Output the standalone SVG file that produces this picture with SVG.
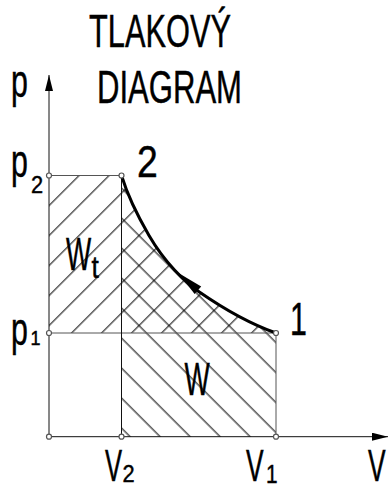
<svg xmlns="http://www.w3.org/2000/svg" width="389" height="491" viewBox="0 0 389 491">
<style>
text{font-family:"Liberation Sans",Arial,sans-serif;fill:#000;stroke:#000;stroke-width:0.45}
.big{font-size:46px}
.sub{font-size:23px}
.thin{stroke:#555;stroke-width:1;fill:none}
.dark{stroke:#111;stroke-width:1;fill:none}
.hatch{stroke:#000;stroke-width:1}
.pt{fill:#fff;stroke:#555;stroke-width:1.2}
</style>
<defs>
<marker id="arr" viewBox="0 0 16 8" refX="16" refY="4" markerWidth="16" markerHeight="8" markerUnits="userSpaceOnUse" orient="auto">
<path d="M0,0 L16,4 L0,8 Z" fill="#000"/>
</marker>
<pattern id="hf" width="21.21" height="21.21" patternUnits="userSpaceOnUse" patternTransform="rotate(45)">
<line class="hatch" x1="10.4" y1="-1" x2="10.4" y2="23"/>
</pattern>
<pattern id="hb" width="21.21" height="21.21" patternUnits="userSpaceOnUse" patternTransform="rotate(-45)">
<line class="hatch" x1="16.5" y1="-1" x2="16.5" y2="23"/>
</pattern>
</defs>

<g id="hatching">
<path id="area-wt" fill="url(#hf)" d="M49,175.5 L121.5,175.5 L129,195.5 L139,217.4 L149,235.4 L164,256.9 L179,273.9 L199,291.7 L219,305.7 L239,316.9 L259,326.3 L276,333 L49,333 Z"/>
<path id="area-w" fill="url(#hb)" d="M121.5,175.5 L129,195.5 L139,217.4 L149,235.4 L164,256.9 L179,273.9 L199,291.7 L219,305.7 L239,316.9 L259,326.3 L276,333 L276,436.7 L121.5,436.7 Z"/>
</g>

<g id="connectors">
<line id="axis-p" class="dark" x1="49" y1="436.7" x2="49" y2="75" marker-end="url(#arr)"/>
<line id="axis-v" class="dark" x1="49" y1="436.7" x2="388" y2="436.7" marker-end="url(#arr)"/>
<line class="thin" x1="49" y1="175.5" x2="121.5" y2="175.5"/>
<line class="thin" x1="49" y1="333" x2="276" y2="333"/>
<line class="dark" x1="121.5" y1="175.5" x2="121.5" y2="436.7"/>
<line class="thin" x1="276" y1="333" x2="276" y2="436.7"/>
<path id="curve" d="M121.5,175.5 C125,187 133,208 149,235.4 S 185,282 199,291.7 S 245,322 276,333" fill="none" stroke="#000" stroke-width="3"/>
<polygon id="curve-arrow" points="178.5,273 201.2,286.6 194.6,294" fill="#000"/>
</g>

<g id="points">
<circle class="pt" cx="49" cy="175.5" r="2.5"/>
<circle class="pt" cx="121.5" cy="175.5" r="2.5"/>
<circle class="pt" cx="49" cy="333" r="2.5"/>
<circle class="pt" cx="276" cy="333" r="2.5"/>
<circle class="pt" cx="49" cy="436.7" r="2.5"/>
<circle class="pt" cx="121.5" cy="436.7" r="2.5"/>
<circle class="pt" cx="276" cy="436.7" r="2.5"/>
</g>

<g id="title">
<text class="big" x="89" y="46.7" textLength="142" lengthAdjust="spacingAndGlyphs">TLAKOVÝ</text>
<text class="big" x="97" y="103" textLength="145" lengthAdjust="spacingAndGlyphs">DIAGRAM</text>
</g>

<g id="labels">
<text class="big" transform="translate(11,97) scale(0.66,1)">p</text>
<g id="label-p2">
<text class="big" transform="translate(11,177) scale(0.66,1)">p</text>
<text class="sub" transform="translate(31,193) scale(0.95,1)">2</text>
</g>
<g id="label-p1">
<text style="font-size:46px" transform="translate(11,345) scale(0.66,1)">p</text>
<text style="font-size:20px" transform="translate(30.5,345) scale(0.9,1)">1</text>
</g>
<text id="label-2" style="font-size:44px" transform="translate(137,176.7) scale(0.85,1)">2</text>
<text id="label-1" class="big" transform="translate(290,335) scale(0.66,1)">1</text>
<g id="label-wt">
<text class="big" transform="translate(66,270) scale(0.58,1)">W</text>
<text style="font-size:31px" transform="translate(91.5,278) scale(0.85,1)">t</text>
</g>
<text id="label-w" class="big" transform="translate(184.5,395) scale(0.58,1)">W</text>
<g id="label-v2">
<text style="font-size:40px" transform="translate(105,481) scale(0.64,1.12)">V</text>
<text class="sub" transform="translate(122.5,482) scale(0.95,1)">2</text>
</g>
<g id="label-v1">
<text style="font-size:40px" transform="translate(246,481) scale(0.66,1.12)">V</text>
<text style="font-size:26px" transform="translate(266,483) scale(0.8,1)">1</text>
</g>
<text id="label-v" style="font-size:40px" transform="translate(368,481) scale(0.66,1.12)">V</text>
</g>
</svg>
